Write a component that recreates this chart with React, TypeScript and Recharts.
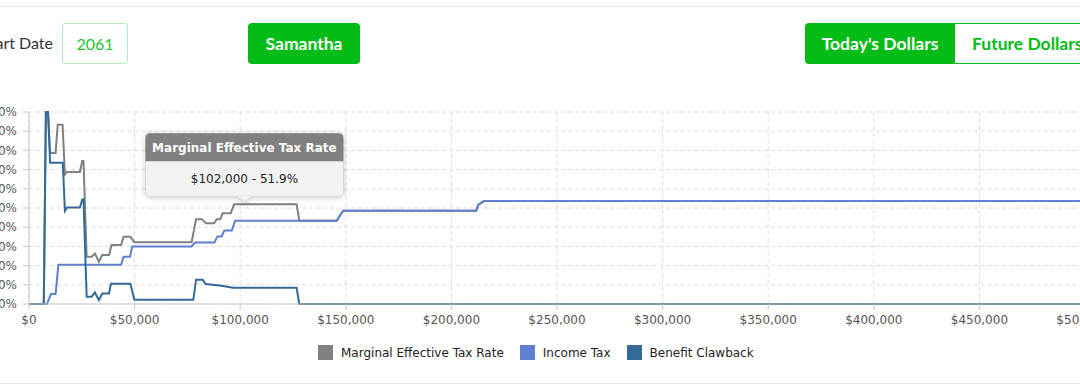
import { CartesianGrid, Line, LineChart, ReferenceDot, XAxis, YAxis } from "recharts";

const GREEN = "#03bc15";
const CHART_FONT = "'DejaVu Sans', Verdana, sans-serif";
const UI_FONT = "Lato, 'Open Sans', sans-serif";

// [income, rate %]
const MET_POINTS: [number, number][] = [
  [0, 0], [7000, 0], [8000, 100], [9000, 100], [10000, 78.7], [12600, 78.7],
  [13600, 93.4], [15900, 93.4], [17000, 67.5], [18000, 68.8], [24100, 68.8],
  [25200, 74.5], [25800, 74.5], [27300, 24.6], [29700, 24.6], [31200, 26.3],
  [33100, 22], [34700, 25.5], [37900, 25.5], [39100, 30.7], [43600, 30.7],
  [44800, 35], [48000, 35], [49900, 32.2], [77000, 32.2], [79100, 44.2],
  [81800, 44.2], [83800, 42.1], [87600, 42.1], [88900, 44.2], [90600, 44.2],
  [91700, 47.3], [95500, 47.3], [97100, 51.9], [126700, 51.9], [128000, 43.4],
  [145700, 43.4], [147300, 46.2], [148800, 48.6], [211700, 48.6], [212800, 51.8],
  [215400, 53.6], [500000, 53.6],
];

const INCOME_TAX_POINTS: [number, number][] = [
  [0, 0], [8500, 0], [10400, 5.2], [12600, 5.2], [13900, 20.4], [43600, 20.4],
  [44800, 24.6], [47800, 24.6], [48900, 30], [77000, 30], [78600, 32],
  [87800, 32], [89200, 35.2], [91200, 35.2], [92500, 38.3], [96000, 38.3],
  [97600, 43.4], [145700, 43.4], [147300, 46.2], [148800, 48.6], [211700, 48.6],
  [212800, 51.8], [215400, 53.6], [500000, 53.6],
];

const CLAWBACK_POINTS: [number, number][] = [
  [0, 0], [7000, 0], [8000, 100], [9000, 100], [10000, 73.6], [16000, 73.6],
  [17000, 48.5], [18000, 50.2], [24100, 50.2], [25200, 54.4], [25800, 54.4],
  [27300, 3.8], [29700, 3.8], [31200, 6], [33100, 2], [34700, 5.5], [37900, 5.5],
  [38800, 10.6], [48000, 10.6], [49900, 2.2], [77800, 2.2], [79100, 12.6],
  [82200, 12.6], [83700, 10.4], [91200, 9.5], [96600, 8.5], [126700, 8.5],
  [128000, 0], [500000, 0],
];

const X_TICKS = [0, 50000, 100000, 150000, 200000, 250000, 300000, 350000, 400000, 450000, 500000];
const Y_TICKS = [0, 10, 20, 30, 40, 50, 60, 70, 80, 90, 100];

const SERIES = [
  { name: "Marginal Effective Tax Rate", color: "#808080", points: MET_POINTS },
  { name: "Income Tax", color: "#5f7fd1", points: INCOME_TAX_POINTS },
  { name: "Benefit Clawback", color: "#336a98", points: CLAWBACK_POINTS },
];

const HOVER = { series: "Marginal Effective Tax Rate", income: 102000, rate: 51.9 };

const money = (v: number) => "$" + v.toLocaleString("en-US");

function TipShape({ cx, cy }: { cx?: number; cy?: number }) {
  if (cx == null || cy == null) return null;
  const w = 198;
  const h = 63;
  const head = 28;
  const r = 5;
  const left = cx - w / 2;
  const right = cx + w / 2;
  const bottom = cy - 8;
  const top = bottom - h;
  const body =
    `M${left + r},${top} H${right - r} Q${right},${top} ${right},${top + r} V${bottom - r} ` +
    `Q${right},${bottom} ${right - r},${bottom} H${cx + 7} L${cx},${bottom + 6} L${cx - 7},${bottom} ` +
    `H${left + r} Q${left},${bottom} ${left},${bottom - r} V${top + r} Q${left},${top} ${left + r},${top} Z`;
  const header =
    `M${left + r},${top} H${right - r} Q${right},${top} ${right},${top + r} V${top + head} ` +
    `H${left} V${top + r} Q${left},${top} ${left + r},${top} Z`;
  return (
    <g style={{ fontFamily: CHART_FONT }}>
      <defs>
        <filter id="tipShadow" x="-20%" y="-30%" width="140%" height="170%">
          <feDropShadow dx="0" dy="1" stdDeviation="2.5" floodColor="#000" floodOpacity="0.22" />
        </filter>
      </defs>
      <path d={body} fill="#f2f2f2" stroke="#d6d6d6" strokeWidth={1} filter="url(#tipShadow)" />
      <path d={header} fill="#808080" />
      <text x={cx} y={top + 15} textAnchor="middle" dominantBaseline="central" fill="#fff" fontSize={12} fontWeight="bold">
        {HOVER.series}
      </text>
      <text x={cx} y={top + 46} textAnchor="middle" dominantBaseline="central" fill="#222" fontSize={12}>
        {`${money(HOVER.income)} - ${HOVER.rate}%`}
      </text>
    </g>
  );
}

const AXIS_TICK = { fill: "#555", fontSize: 12, fontFamily: CHART_FONT };

export default function App() {
  return (
    <div style={{ position: "absolute", left: 0, top: 0, width: 1080, height: 389, overflow: "hidden", background: "#fff" }}>
      <div style={{ position: "absolute", left: 0, right: 0, top: 6, height: 1, background: "#e3e8ee" }} />
      <div style={{ position: "absolute", left: 0, right: 0, top: 383, height: 1, background: "#e3e8ee" }} />

      {/* controls row */}
      <div style={{ position: "absolute", right: 1027, top: 33, fontFamily: UI_FONT, fontSize: 16, color: "#333", whiteSpace: "nowrap" }}>
        Start Date
      </div>
      <div
        style={{
          position: "absolute", left: 62, top: 23, width: 64, height: 39, border: "1px solid #b5ebbb",
          borderRadius: 3, display: "flex", alignItems: "center", justifyContent: "center",
          fontFamily: UI_FONT, fontSize: 16, color: "#1ec42e",
        }}
      >
        2061
      </div>
      <div
        style={{
          position: "absolute", left: 248, top: 23, width: 112, height: 41, background: GREEN, borderRadius: 4,
          display: "flex", alignItems: "center", justifyContent: "center",
          fontFamily: UI_FONT, fontWeight: 700, fontSize: 17.5, color: "#fff",
        }}
      >
        Samantha
      </div>
      <div
        style={{
          position: "absolute", left: 805, top: 23, width: 150, height: 41, background: GREEN,
          borderRadius: "4px 0 0 4px", display: "flex", alignItems: "center", justifyContent: "center",
          fontFamily: UI_FONT, fontWeight: 700, fontSize: 17.5, color: "#fff", whiteSpace: "nowrap",
        }}
      >
        Today's Dollars
      </div>
      <div
        style={{
          position: "absolute", left: 955, top: 23, width: 150, height: 39, border: `1px solid ${GREEN}`,
          borderLeft: "none", background: "#fff", display: "flex", alignItems: "center", paddingLeft: 17,
          fontFamily: UI_FONT, fontWeight: 700, fontSize: 17.5, color: GREEN, whiteSpace: "nowrap",
        }}
      >
        Future Dollars
      </div>

      {/* chart, y labels partly off the left edge like the screenshot */}
      <div style={{ position: "absolute", left: -41, top: 100 }}>
        <LineChart width={1136} height={234} margin={{ top: 12, right: 10, left: 0, bottom: 0 }}>
          <CartesianGrid stroke="#dcdcdc" strokeDasharray="4 3" />
          <XAxis
            dataKey="income"
            type="number"
            domain={[0, 500000]}
            ticks={X_TICKS}
            tickFormatter={money}
            tick={AXIS_TICK}
            tickSize={6}
            tickMargin={5}
            stroke="#c8c8c8"
            height={30}
            interval={0}
          />
          <YAxis
            type="number"
            domain={[0, 100]}
            ticks={Y_TICKS}
            tickFormatter={(v: number) => `${v}%`}
            tick={AXIS_TICK}
            tickSize={6}
            tickMargin={6}
            stroke="#c8c8c8"
            width={70}
            interval={0}
          />
          {SERIES.map((s) => (
            <Line
              key={s.name}
              data={s.points.map(([income, rate]) => ({ income, rate }))}
              dataKey="rate"
              name={s.name}
              type="linear"
              stroke={s.color}
              strokeWidth={2}
              dot={false}
              activeDot={false}
              isAnimationActive={false}
            />
          ))}
          <ReferenceDot x={HOVER.income} y={HOVER.rate} shape={(p: any) => <TipShape cx={p.cx} cy={p.cy} />} />
        </LineChart>
      </div>

      {/* legend */}
      <div style={{ position: "absolute", left: 318, top: 345, display: "flex", alignItems: "center", fontFamily: CHART_FONT, fontSize: 12, color: "#222" }}>
        {SERIES.map((s) => (
          <div key={s.name} style={{ display: "flex", alignItems: "center", marginRight: 16 }}>
            <span style={{ width: 15, height: 15, background: s.color, marginRight: 8, display: "inline-block" }} />
            {s.name}
          </div>
        ))}
      </div>
    </div>
  );
}
